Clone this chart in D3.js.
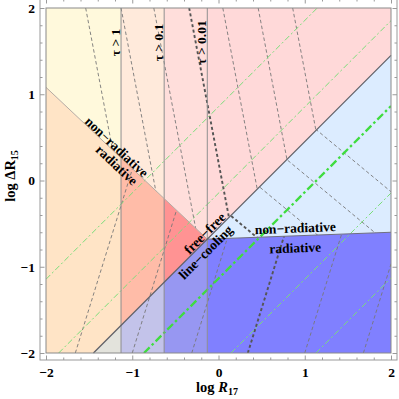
<!DOCTYPE html>
<html>
<head>
<meta charset="utf-8">
<script src="https://cdn.jsdelivr.net/npm/d3@7"></script>
<style>
body { margin: 0; background: #fff; }
svg { display: block; }
text { font-family: "Liberation Serif", "DejaVu Serif", serif; font-weight: bold; fill: #000; }
</style>
</head>
<body>
<script>
// boundaries in (log R17, log dR15)
var tauCuts = [-1.13, -0.63, -0.13];
var tauLabels = ['τ > 1', 'τ > 0.1', 'τ > 0.01'];
var radLeft = [[-2, 1.08], [-0.13, -0.68]];
var radRight = [[-0.13, -0.68], [2, -0.60]];
var coolLine = [[-1.45, -2], [2, 1.45]];

var regions = {
  nonradFF: [[-2, 2], [2, 2], [2, 1.45], [-0.13, -0.68], [-2, 1.08]],
  radFF: [[-2, 1.08], [-0.13, -0.68], [-1.45, -2], [-2, -2]],
  nonradLC: [[-0.13, -0.68], [2, 1.45], [2, -0.60]],
  radLC: [[-0.13, -0.68], [2, -0.60], [2, -2], [-1.45, -2]]
};

// fill per tau column (tau>1, tau>0.1, tau>0.01, thin)
var cellColors = {
  nonradFF: ['#fff9dc', '#ffeadb', '#ffdedb', '#ffd9d9'],
  radFF: ['#ffe4c6', '#ffbca8', '#ff9393', null],
  nonradLC: [null, null, null, '#dcecff'],
  radLC: ['#e3e3dc', '#c3c3ea', '#9797f2', '#8080ff']
};

// dashed contours, each a list of points
var contoursNonradFF = [
  [[-1.54, 2], [-0.97, -1]],
  [[-1.13, 2], [-0.56, -1]],
  [[-0.75, 2], [-0.18, -1]],
  [[-0.34, 2], [0.23, -1]],
  [[0.05, 2], [0.62, -1]],
  [[0.46, 2], [1.03, -1]],
  [[0.86, 2], [1.43, -1]]
];
var contoursNonradLC = [
  [[0, -0.29], [2, -1.95]],
  [[0, 0.32], [2, -1.34]],
  [[0, 0.90], [2, -0.76]],
  [[0, 1.53], [2, -0.13]]
];
var contoursRad = [
  [[-1.66, -2], [-0.73, 1]],
  [[-1.00, -2], [-0.07, 1]],
  [[-0.31, -2], [0.62, 1]],
  [[0.34, -2], [1.27, 1]],
  [[1.00, -2], [1.93, 1]],
  [[1.68, -2], [2.61, 1]]
];
var thickNonradFF = 3, thickNonradLC = 0, thickRad = 3;

// green dash-dot lines
var greenLines = [
  [[-2, -1.145], [1.145, 2]],
  [[-1.853, -2], [2, 1.853]],
  [[-0.864, -2], [2, 0.864]],
  [[0.145, -2], [2, -0.145]],
  [[1.13, -2], [2, -1.13]]
];
var thickGreen = 2;

var xTicks = [-2, -1, 0, 1, 2];
var yTicks = [-2, -1, 0, 1, 2];
var tickText = ['−2', '−1', '0', '1', '2'];
var minorTicks = [-1.8, -1.6, -1.4, -1.2, -0.8, -0.6, -0.4, -0.2, 0.2, 0.4, 0.6, 0.8, 1.2, 1.4, 1.6, 1.8];

var x = d3.scaleLinear().domain([-2, 2]).range([46, 391]);
var y = d3.scaleLinear().domain([-2, 2]).range([353, 8]);
var line = d3.line().x(function(d) { return x(d[0]); }).y(function(d) { return y(d[1]); });

var svg = d3.select('body').append('svg').attr('width', 399).attr('height', 399);
var defs = svg.append('defs');

Object.keys(regions).forEach(function(k) {
  defs.append('clipPath').attr('id', 'clip-' + k)
    .append('path').attr('d', line(regions[k]) + 'Z');
});
var radClip = defs.append('clipPath').attr('id', 'clip-rad');
radClip.append('path').attr('d', line(regions.radFF) + 'Z');
radClip.append('path').attr('d', line(regions.radLC) + 'Z');
defs.append('clipPath').attr('id', 'clip-plot')
  .append('rect').attr('x', x(-2)).attr('y', y(2))
  .attr('width', x(2) - x(-2)).attr('height', y(-2) - y(2));

// region cells
var colEdges = [-2].concat(tauCuts, [2]);
Object.keys(regions).forEach(function(k) {
  var g = svg.append('g').attr('clip-path', 'url(#clip-' + k + ')');
  cellColors[k].forEach(function(c, i) {
    if (!c) return;
    g.append('rect')
      .attr('x', x(colEdges[i])).attr('y', y(2))
      .attr('width', x(colEdges[i + 1]) - x(colEdges[i]))
      .attr('height', y(-2) - y(2))
      .attr('fill', c).attr('stroke', c).attr('stroke-width', 0.6);
  });
});

function drawContours(set, clip, thick) {
  svg.append('g').attr('clip-path', 'url(#clip-' + clip + ')')
    .selectAll('path').data(set).enter().append('path')
    .attr('d', line)
    .attr('fill', 'none')
    .attr('stroke', function(d, i) { return i === thick ? '#555' : '#777'; })
    .attr('stroke-width', function(d, i) { return i === thick ? 1.9 : 0.9; })
    .attr('stroke-dasharray', function(d, i) { return i === thick ? '3,2.5' : '3.5,2.5'; });
}
drawContours(contoursNonradFF, 'nonradFF', thickNonradFF);
drawContours(contoursNonradLC, 'nonradLC', thickNonradLC);
drawContours(contoursRad, 'rad', thickRad);

svg.append('g').attr('clip-path', 'url(#clip-plot)')
  .selectAll('path').data(greenLines).enter().append('path')
  .attr('d', line)
  .attr('fill', 'none')
  .attr('stroke', function(d, i) { return i === thickGreen ? '#3fdc3f' : '#7ade7a'; })
  .attr('stroke-width', function(d, i) { return i === thickGreen ? 2.3 : 1; })
  .attr('stroke-dasharray', function(d, i) { return i === thickGreen ? '8,3,2.5,3' : '6,2.5,2,2.5'; });

// boundaries
svg.selectAll('.tau').data(tauCuts).enter().append('line')
  .attr('x1', function(d) { return x(d); }).attr('x2', function(d) { return x(d); })
  .attr('y1', y(2)).attr('y2', y(-2))
  .attr('stroke', '#8f8f8f').attr('stroke-width', 1);
svg.append('path').attr('d', line(radLeft)).attr('stroke', '#b5aba3').attr('stroke-width', 1).attr('fill', 'none');
svg.append('path').attr('d', line(radRight)).attr('stroke', '#6f6f80').attr('stroke-width', 1).attr('fill', 'none');
svg.append('path').attr('d', line(coolLine)).attr('stroke', '#5f5f66').attr('stroke-width', 1.2).attr('fill', 'none');
svg.append('rect').attr('x', x(-2)).attr('y', y(2))
  .attr('width', x(2) - x(-2)).attr('height', y(-2) - y(2))
  .attr('fill', 'none').attr('stroke', '#8a8a8a').attr('stroke-width', 1);

// tau labels
svg.selectAll('.taulab').data(tauCuts).enter().append('text')
  .attr('transform', function(d) { return 'translate(' + (x(d) - 1.5) + ',' + y(1.6) + ') rotate(-90)'; })
  .attr('text-anchor', 'middle').attr('font-size', 13.5)
  .text(function(d, i) { return tauLabels[i]; });

function angleOf(seg) {
  return Math.atan2(y(seg[1][1]) - y(seg[0][1]), x(seg[1][0]) - x(seg[0][0])) * 180 / Math.PI;
}
function label(t, px, py, ang) {
  svg.append('text')
    .attr('transform', 'translate(' + x(px) + ',' + y(py) + ') rotate(' + ang + ')')
    .attr('text-anchor', 'middle').attr('dy', '0.35em').attr('font-size', 13.5)
    .text(t);
}
var aL = angleOf(radLeft), aR = angleOf(radRight), aC = angleOf(coolLine);
label('non−radiative', -1.18, 0.39, aL);
label('radiative', -1.18, 0.18, aL);
label('free−free', -0.16, -0.61, aC);
label('line−cooling', -0.15, -0.83, aC);
label('non−radiative', 0.89, -0.55, aR);
label('radiative', 0.89, -0.78, aR);

// frame with ticks
svg.append('rect').attr('x', 40).attr('y', -1).attr('width', 357).attr('height', 361)
  .attr('fill', 'none').attr('stroke', '#9a9a9a').attr('stroke-width', 1);

function frameAxis(axis, tr, vals, size, fmt) {
  var g = svg.append('g').attr('transform', tr)
    .call(axis.tickValues(vals).tickSize(size).tickSizeOuter(0).tickPadding(7).tickFormat(fmt));
  g.select('.domain').remove();
  g.attr('font-family', null).attr('font-size', null);
  g.selectAll('line').attr('stroke', '#9a9a9a');
  g.selectAll('text').attr('font-size', 13.5);
  return g;
}
var noText = function() { return ''; };
frameAxis(d3.axisBottom(x), 'translate(0,360)', xTicks, -4.5, function(d, i) { return tickText[i]; });
frameAxis(d3.axisLeft(y), 'translate(40,0)', yTicks, -4.5, function(d, i) { return tickText[i]; })
  .selectAll('text').attr('x', -5);
frameAxis(d3.axisTop(x), 'translate(0,-1)', xTicks, -4.5, noText);
frameAxis(d3.axisRight(y), 'translate(397,0)', yTicks, -4.5, noText);
frameAxis(d3.axisBottom(x), 'translate(0,360)', minorTicks, -2.5, noText);
frameAxis(d3.axisLeft(y), 'translate(40,0)', minorTicks, -2.5, noText);
frameAxis(d3.axisTop(x), 'translate(0,-1)', minorTicks, -2.5, noText);
frameAxis(d3.axisRight(y), 'translate(397,0)', minorTicks, -2.5, noText);

// axis titles
var xt = svg.append('text').attr('x', 217).attr('y', 392).attr('text-anchor', 'middle').attr('font-size', 14.5);
xt.append('tspan').text('log ');
xt.append('tspan').attr('font-style', 'italic').text('R');
xt.append('tspan').attr('font-size', 10).attr('dy', 3).text('17');

var yt = svg.append('text').attr('transform', 'translate(15,176) rotate(-90)').attr('text-anchor', 'middle').attr('font-size', 14.5);
yt.append('tspan').text('log ΔR');
yt.append('tspan').attr('font-size', 10).attr('dy', 3).text('15');
</script>
</body>
</html>
